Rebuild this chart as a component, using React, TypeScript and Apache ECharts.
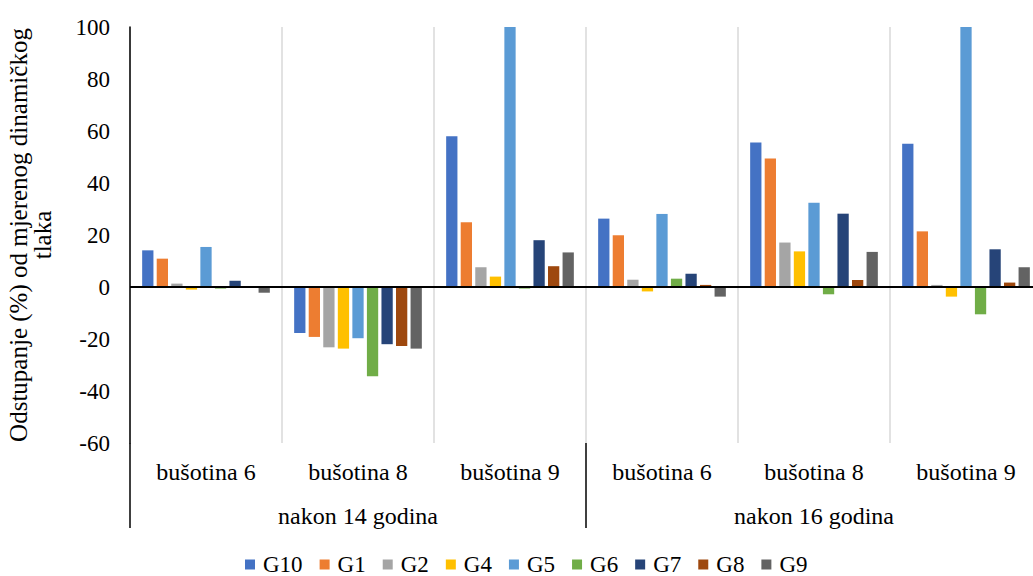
import React, { useEffect, useRef } from "react";
import * as echarts from "echarts";

const categories = ["bušotina 6", "bušotina 8", "bušotina 9", "bušotina 6", "bušotina 8", "bušotina 9"];
const groups = ["nakon 14 godina", "nakon 16 godina"];
const seriesNames = ["G10", "G1", "G2", "G4", "G5", "G6", "G7", "G8", "G9"];
const colors = ["#4472C4", "#ED7D31", "#A5A5A5", "#FFC000", "#5B9BD5", "#70AD47", "#264478", "#9E480E", "#636363"];

const G10 = [14.1, -17.7, 58.0, 26.3, 55.6, 55.1];
const G1 = [10.9, -19.2, 24.9, 19.9, 49.4, 21.4];
const G2 = [1.3, -23.2, 7.6, 2.8, 17.1, 0.8];
const G4 = [-1.0, -23.7, 4.0, -1.7, 13.7, -3.7];
const G5 = [15.4, -19.7, 100, 28.1, 32.4, 100];
const G6 = [-0.6, -34.3, -0.6, 3.2, -2.8, -10.5];
const G7 = [2.4, -22.0, 18.0, 5.1, 28.2, 14.5];
const G8 = [0.1, -22.7, 8.0, 0.8, 2.7, 1.7];
const G9 = [-2.2, -23.7, 13.3, -3.7, 13.5, 7.6];
const seriesData = [G10, G1, G2, G4, G5, G6, G7, G8, G9];

const yTitle = "Odstupanje (%) od mjerenog dinamičkog\ntlaka";
const FONT = "'Liberation Serif', 'Times New Roman', serif";

export default function App() {
  const ref = useRef<HTMLDivElement>(null);
  useEffect(() => {
    if (!ref.current) return;
    const chart = echarts.init(ref.current, null, { renderer: "svg" });
    chart.setOption({
      animation: false,
      backgroundColor: "#ffffff",
      textStyle: { fontFamily: FONT },
      grid: { left: 130, top: 27, width: 912, height: 416, containLabel: false, outerBoundsMode: "none" },
      legend: {
        data: seriesNames,
        top: 553,
        left: 245,
        padding: 0,
        icon: "rect",
        itemWidth: 10,
        itemHeight: 10,
        itemGap: 17,
        textStyle: { fontFamily: FONT, fontSize: 23, color: "#000", padding: [0, 0, 0, 3] },
      },
      xAxis: [
        {
          type: "category",
          data: categories,
          position: "bottom",
          axisLine: { show: false, onZero: false },
          axisTick: { show: false },
          splitLine: { show: true, lineStyle: { color: "#d9d9d9", width: 1.5 } },
          axisLabel: { margin: 17, fontFamily: FONT, fontSize: 24, color: "#000" },
        },
        {
          type: "category",
          data: groups,
          position: "bottom",
          axisLine: { show: false, onZero: false },
          axisTick: { show: true, length: 85, lineStyle: { color: "#000", width: 1.5 } },
          axisLabel: { margin: 61, fontFamily: FONT, fontSize: 24, color: "#000" },
        },
      ],
      yAxis: {
        type: "value",
        min: -60,
        max: 100,
        interval: 20,
        axisLine: { show: true, lineStyle: { color: "#000", width: 1.5 } },
        axisTick: { show: false },
        splitLine: { show: false },
        axisLabel: { margin: 20, fontFamily: FONT, fontSize: 23, color: "#000" },
        name: yTitle,
        nameLocation: "middle",
        nameRotate: 90,
        nameGap: 76,
        nameTextStyle: { fontFamily: FONT, fontSize: 25, color: "#000", lineHeight: 24 },
      },
      series: seriesNames.map((name, i) => ({
        name,
        type: "bar",
        xAxisIndex: 0,
        data: seriesData[i],
        barGap: "29%",
        barCategoryGap: "16%",
        itemStyle: { color: colors[i] },
        ...(i === 0
          ? {
              markLine: {
                silent: true,
                symbol: ["none", "none"],
                label: { show: false },
                lineStyle: { color: "#000", width: 2, type: "solid" },
                data: [{ yAxis: 0 }],
                z: 10,
              },
            }
          : {}),
      })),
    });
    return () => chart.dispose();
  }, []);
  return (
    <div
      ref={ref}
      style={{ position: "fixed", left: 0, top: 0, width: 1033, height: 576 }}
    />
  );
}
